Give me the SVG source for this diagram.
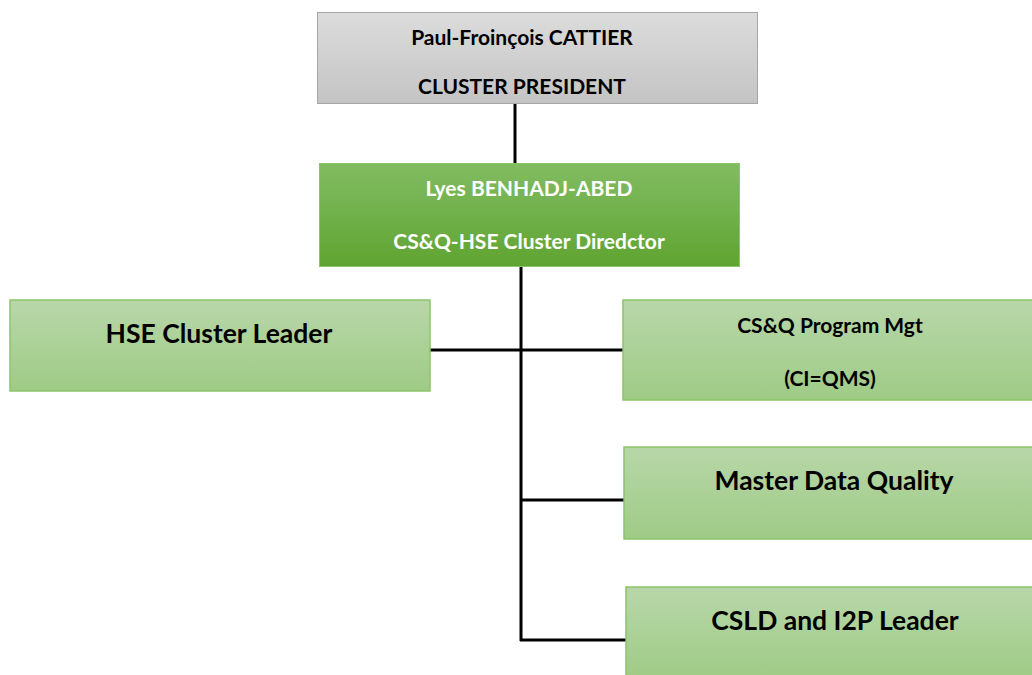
<svg xmlns="http://www.w3.org/2000/svg" width="1032" height="675" viewBox="0 0 1032 675">
  <defs>
    <linearGradient id="gGray" x1="0" y1="0" x2="0" y2="1">
      <stop offset="0" stop-color="#dcdcdc"/>
      <stop offset="1" stop-color="#c4c4c4"/>
    </linearGradient>
    <linearGradient id="gDark" x1="0" y1="0" x2="0" y2="1">
      <stop offset="0" stop-color="#82bc62"/>
      <stop offset="1" stop-color="#5fa431"/>
    </linearGradient>
    <linearGradient id="gLight" x1="0" y1="0" x2="0" y2="1">
      <stop offset="0" stop-color="#b8d7a9"/>
      <stop offset="1" stop-color="#9fcb86"/>
    </linearGradient>
    <style>
      .lbl { font-family: Lato, "Open Sans", "Liberation Sans", sans-serif; font-weight: bold; text-anchor: middle; }
      .s { font-size: 21px; }
      .l { font-size: 26.5px; }
      .dark { fill: #000000; }
      .white { fill: #ffffff; }
      .conn { stroke: #000000; stroke-width: 3; fill: none; }
      .gray { fill: url(#gGray); stroke: #a6a6a6; stroke-width: 1; }
      .boss { fill: url(#gDark); stroke: #8cc46a; stroke-width: 1; }
      .unit { fill: url(#gLight); stroke: #8cc46a; stroke-width: 1.5; }
    </style>
  </defs>
  <rect width="1032" height="675" fill="#ffffff"/>

  <!-- reporting lines -->
  <g id="connectors">
    <line class="conn" x1="515" y1="103" x2="515" y2="163"/>
    <line class="conn" x1="521" y1="266" x2="521" y2="641"/>
    <line class="conn" x1="430" y1="350" x2="623" y2="350"/>
    <line class="conn" x1="521" y1="500" x2="624" y2="500"/>
    <line class="conn" x1="520" y1="640" x2="626" y2="640"/>
  </g>

  <g id="president">
    <rect class="gray" x="317.5" y="12.5" width="440" height="91"/>
    <text class="lbl s dark" x="522" y="45">Paul-Froinçois CATTIER</text>
    <text class="lbl s dark" x="522" y="94">CLUSTER PRESIDENT</text>
  </g>

  <g id="director">
    <rect class="boss" x="319.5" y="163.5" width="420" height="103"/>
    <text class="lbl s white" x="529" y="196">Lyes BENHADJ-ABED</text>
    <text class="lbl s white" x="529" y="249">CS&amp;Q-HSE Cluster Diredctor</text>
  </g>

  <g id="hse-leader">
    <rect class="unit" x="10" y="300" width="420" height="91"/>
    <text class="lbl l dark" x="219" y="343">HSE Cluster Leader</text>
  </g>

  <g id="program-mgt">
    <rect class="unit" x="623" y="300" width="412" height="100"/>
    <text class="lbl s dark" x="830" y="333">CS&amp;Q Program Mgt</text>
    <text class="lbl s dark" x="830" y="386">(CI=QMS)</text>
  </g>

  <g id="master-data">
    <rect class="unit" x="624" y="447" width="412" height="92"/>
    <text class="lbl l dark" x="834" y="490">Master Data Quality</text>
  </g>

  <g id="csld-i2p">
    <rect class="unit" x="626" y="587" width="410" height="92"/>
    <text class="lbl l dark" x="835" y="630">CSLD and I2P Leader</text>
  </g>
</svg>
